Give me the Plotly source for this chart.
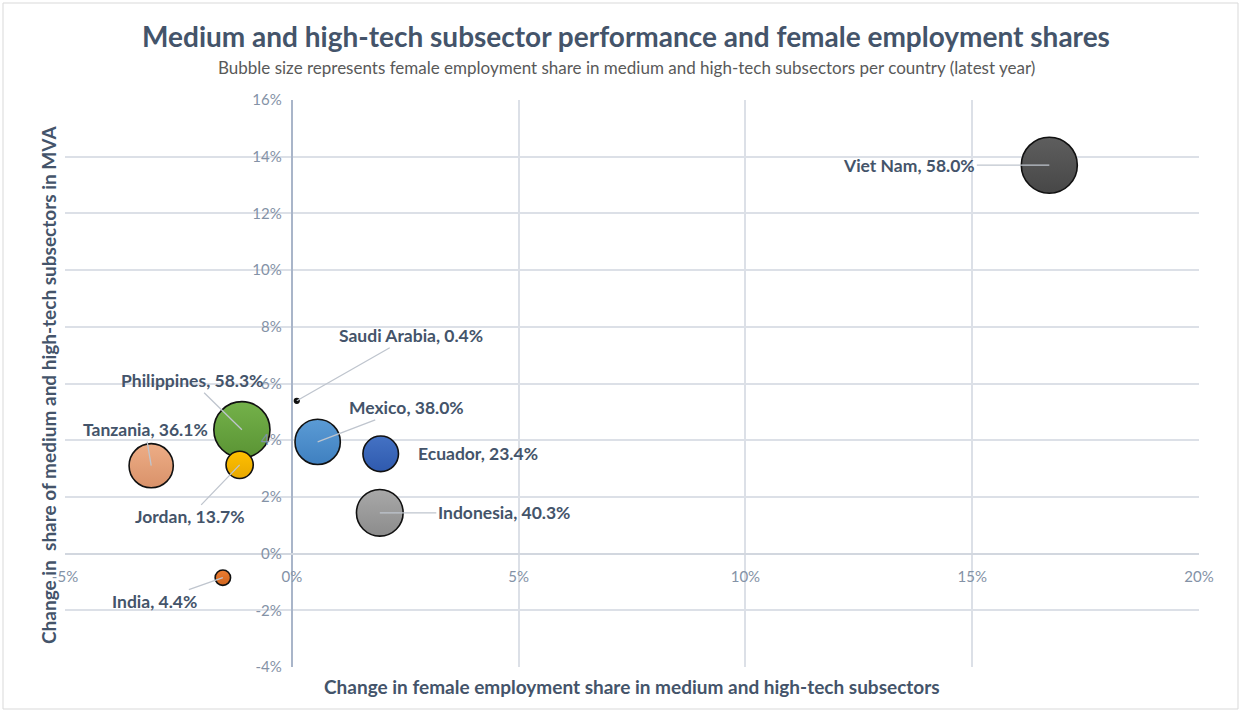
import plotly.graph_objects as go

# ---- data ----
countries = ["Viet Nam", "Philippines", "Tanzania", "Jordan", "India",
             "Saudi Arabia", "Mexico", "Ecuador", "Indonesia"]
female_emp_change = [0.167, -0.011, -0.031, -0.0115, -0.0152, 0.0011, 0.0057, 0.0196, 0.0194]
mva_share_change = [0.137, 0.0437, 0.031, 0.0313, -0.0085, 0.0539, 0.0394, 0.0352, 0.0144]
female_share = [58.0, 58.3, 36.1, 13.7, 4.4, 0.4, 38.0, 23.4, 40.3]

x_tickvals = [-0.05, 0.0, 0.05, 0.10, 0.15, 0.20]
x_ticktext = ["-5%", "0%", "5%", "10%", "15%", "20%"]
y_tickvals = [-0.04, -0.02, 0.0, 0.02, 0.04, 0.06, 0.08, 0.10, 0.12, 0.14, 0.16]
y_ticktext = ["-4%", "-2%", "0%", "2%", "4%", "6%", "8%", "10%", "12%", "14%", "16%"]

# ---- styles ----
colors = ["#5E5E5E", "#74B14A", "#EDAD86", "#FFC000", "#ED7D31",
          "#111111", "#5B9BD5", "#4472C4", "#A8A8A8"]
grad_colors = ["#474747", "#5A9434", "#D9926A", "#E8A800", "#D0651E",
               "#000000", "#3F80C0", "#2F5AAE", "#8C8C8C"]
# label offsets in pixels (ax, ay)
label_offsets = [(-140, 0), (-50, -49), (-6, -36), (-50, 52), (-68, 24),
                 (114, -65), (89, -34), (97, 0), (124, 0)]
show_leader = [True, True, True, True, True, True, True, False, True]

W, H = 1244, 712
L, R, T, B = 65, 45, 100, 45
TXT = "#44546A"
FONT = "Lato, Carlito, Calibri, 'Open Sans', sans-serif"

fig = go.Figure()
fig.add_trace(go.Scatter(
    x=female_emp_change, y=mva_share_change, mode="markers",
    text=countries,
    marker=dict(size=female_share, sizemode="area", sizeref=2 * 58.0 / 56.0 ** 2,
                color=colors, line=dict(color="#111111", width=1.6),
                gradient=dict(type="vertical", color=grad_colors), opacity=1),
    hoverinfo="text", showlegend=False,
))

annotations = []
for c, xv, yv, s, (ax, ay), sl in zip(countries, female_emp_change, mva_share_change,
                                      female_share, label_offsets, show_leader):
    txt = f"{c}, {s:.1f}%"
    if sl:
        annotations.append(dict(x=xv, y=yv, xref="x", yref="y", text=txt,
                                showarrow=True, arrowhead=0, arrowwidth=1.3,
                                arrowcolor="#BFC5CE", ax=ax, ay=ay, standoff=0,
                                font=dict(family=FONT, size=17.5, color=TXT, weight="bold")))
    else:
        annotations.append(dict(x=xv, y=yv, xref="x", yref="y", text=txt,
                                showarrow=False, xshift=ax, yshift=-ay,
                                font=dict(family=FONT, size=17.5, color=TXT, weight="bold")))

pw, ph = W - L - R, H - T - B
annotations.append(dict(text="Bubble size represents female employment share in medium and high-tech subsectors per country (latest year)",
                        xref="paper", yref="paper", x=(626 - L) / pw, y=(H - B - 67) / ph,
                        showarrow=False, xanchor="center", yanchor="middle",
                        font=dict(family=FONT, size=17, color="#595959")))
annotations.append(dict(text="Change in female employment share in medium and high-tech subsectors",
                        xref="paper", yref="paper", x=(632 - L) / pw, y=(H - B - 686) / ph,
                        showarrow=False, xanchor="center", yanchor="middle",
                        font=dict(family=FONT, size=19, color=TXT, weight="bold")))
annotations.append(dict(text="Change in  share of medium and high-tech subsectors in MVA",
                        xref="paper", yref="paper", x=(48 - L) / pw, y=(H - B - 385) / ph,
                        showarrow=False, textangle=-90, xanchor="center", yanchor="middle",
                        font=dict(family=FONT, size=19, color=TXT, weight="bold")))

fig.update_layout(
    width=W, height=H, margin=dict(l=L, r=R, t=T, b=B),
    paper_bgcolor="white", plot_bgcolor="white",
    title=dict(text="Medium and high-tech subsector performance and female employment shares",
               x=626 / W, xref="container", xanchor="center",
               y=1 - 37 / H, yref="container", yanchor="middle",
               font=dict(family=FONT, size=28, color=TXT, weight="bold")),
    annotations=annotations,
    shapes=[dict(type="rect", xref="paper", yref="paper",
                 x0=(3 - L) / pw, x1=(1238 - L) / pw,
                 y0=(H - B - 709) / ph, y1=(H - B - 3) / ph,
                 line=dict(color="#D9D9D9", width=1), layer="below")],
    xaxis=dict(range=[-0.05, 0.20], tickvals=x_tickvals, ticktext=x_ticktext,
               showgrid=True, gridcolor="#DCE0E7", gridwidth=1.5,
               zeroline=True, zerolinecolor="#A9B5C9", zerolinewidth=1.5,
               showline=False, anchor="free", position=0.2,
               ticks="", ticklabelstandoff=12,
               tickfont=dict(family=FONT, size=15, color="#8492A6")),
    yaxis=dict(range=[-0.04, 0.16], tickvals=y_tickvals, ticktext=y_ticktext,
               showgrid=True, gridcolor="#DCE0E7", gridwidth=1.5,
               zeroline=True, zerolinecolor="#D2D7DF", zerolinewidth=1.8,
               showline=False, anchor="free", position=0.2,
               ticks="", ticklabelstandoff=10,
               tickfont=dict(family=FONT, size=15, color="#8492A6")),
)

fig.write_html("out.html", config={"displayModeBar": False},
               post_script="document.body.style.margin='0';")
